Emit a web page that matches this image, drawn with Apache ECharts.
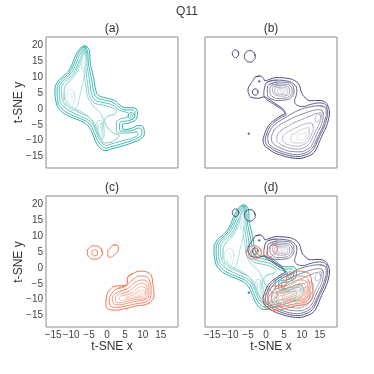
<!DOCTYPE html>
<html><head><meta charset="utf-8">
<script src="https://cdn.jsdelivr.net/npm/echarts/dist/echarts.min.js"></script>
<style>html,body{margin:0;padding:0;background:#fff}#c{width:374px;height:374px}</style>
</head><body><div id="c"></div>
<script>
// ---- tick labels / ranges ----
const xTicks = [-15, -10, -5, 0, 5, 10, 15];
const yTicks = [-15, -10, -5, 0, 5, 10, 15, 20];
const xRange = [-17.0, 19.8];
const yRange = [-18.6, 22.7];
const panelTitles = ['(a)', '(b)', '(c)', '(d)'];
const mainTitle = 'Q11';
const xName = 't-SNE x';
const yName = 't-SNE y';

// ---- teal group (panel a) contour lines, data coords ----
const teal1 = [[-6.4,19.9],[-5.2,19.2],[-4.8,17.4],[-4.7,14.8],[-4.2,12.2],[-3.6,9.0],[-3.1,5.9],[-2.4,4.3],[-0.3,3.5],[2.0,2.7],[3.8,1.1],[5.2,0.4],[7.3,0.4],[8.5,-1.0],[8.2,-3.1],[6.1,-4.4],[4.3,-4.9],[4.5,-6.5],[6.6,-6.2],[8.9,-5.2],[10.1,-5.7],[10.4,-7.8],[9.4,-9.4],[7.5,-10.4],[4.8,-11.5],[1.5,-12.5],[-0.3,-13.1],[-1.7,-12.5],[-3.1,-10.4],[-4.0,-7.9],[-5.4,-5.2],[-7.7,-3.6],[-10.5,-2.3],[-12.8,-0.6],[-14.2,2.2],[-14.5,5.9],[-13.8,8.5],[-11.9,10.6],[-10.3,12.7],[-9.1,15.9],[-7.9,18.5],[-7.0,19.6]];
const teal2 = [[-6.4,19.4],[-5.6,18.9],[-5.3,17.0],[-5.2,14.6],[-4.8,12.0],[-4.2,8.8],[-3.7,5.5],[-2.8,3.6],[-0.5,2.8],[1.8,2.0],[3.6,0.4],[5.3,-0.3],[7.1,-0.3],[7.8,-1.2],[7.6,-2.7],[6.0,-3.7],[4.0,-4.0],[3.5,-5.2],[3.7,-7.0],[6.6,-6.9],[8.9,-6.0],[9.6,-6.4],[9.7,-7.8],[8.9,-8.9],[7.2,-9.8],[4.6,-10.8],[1.4,-11.8],[-0.3,-12.3],[-1.3,-11.8],[-2.6,-10.0],[-3.5,-7.6],[-5.0,-4.6],[-7.5,-3.0],[-10.2,-1.7],[-12.3,-0.1],[-13.7,2.4],[-13.9,5.9],[-13.3,8.3],[-11.5,10.3],[-9.9,12.5],[-8.7,15.6],[-7.6,18.2]];
const teal3 = [[-6.4,19.0],[-5.8,18.5],[-5.6,16.6],[-5.6,14.3],[-5.3,11.8],[-4.8,8.5],[-4.3,5.0],[-3.2,2.8],[-0.8,2.0],[1.6,1.2],[3.4,-0.3],[5.3,-1.0],[6.0,-1.4],[5.6,-2.6],[3.6,-3.2],[2.6,-4.6],[2.8,-7.4],[5.6,-7.6],[8.4,-7.2],[8.6,-8.0],[7.4,-9.0],[4.4,-10.0],[1.2,-11.0],[-0.3,-11.5],[-1.0,-11.0],[-2.1,-9.6],[-3.0,-7.2],[-4.6,-4.0],[-7.2,-2.4],[-9.8,-1.0],[-11.8,0.5],[-13.1,2.7],[-13.3,5.9],[-12.8,8.1],[-11.1,10.0],[-9.5,12.2],[-8.3,15.2],[-7.3,17.7]];
const tealLoop = [[7.7,-2.2],[7.4,-1.5],[6.8,-1.2],[6.1,-1.5],[5.9,-2.2],[6.2,-2.9],[6.8,-3.2],[7.4,-2.9]];
const teal4 = [[-6.4,18.6],[-5.9,18.0],[-5.9,15.5],[-6.0,13.8],[-5.8,11.4],[-5.4,8.1],[-4.9,4.4],[-3.6,2.0],[-1.0,1.2],[1.4,0.4],[2.6,-0.6],[2.2,-1.6],[0.4,-2.2],[-0.6,-3.6],[0.0,-5.6],[1.8,-7.6],[3.4,-8.4],[2.4,-9.6],[0.4,-10.6],[-0.6,-10.7],[-1.6,-9.4],[-2.6,-6.8],[-4.2,-3.4],[-6.8,-1.6],[-9.4,-0.2],[-11.3,1.2],[-12.5,3.2],[-12.7,5.9],[-12.2,7.9],[-10.7,9.6],[-9.1,11.8],[-7.9,14.8],[-7.0,17.0]];
const tealLoopIn = [[7.2,-2.2],[6.8,-1.8],[6.4,-2.2],[6.8,-2.6]];
const teal5 = [[-6.4,18.2],[-6.0,17.5],[-6.1,14.0],[-6.3,11.0],[-5.9,7.6],[-5.4,4.0],[-4.0,1.2],[-2.2,-0.8],[-1.2,-2.8],[-0.9,-5.4],[-0.8,-8.0],[-1.3,-9.4],[-2.0,-8.8],[-3.0,-6.4],[-4.6,-3.0],[-7.0,-1.0],[-9.4,0.4],[-11.0,1.8],[-11.9,3.8],[-11.9,6.0],[-11.4,7.8],[-10.2,9.4],[-8.8,11.5],[-7.7,14.4],[-6.9,16.8]];
const teal6a = [[-6.4,17.8],[-6.0,16.8],[-6.1,13.0],[-6.6,9.0],[-7.2,6.0],[-7.8,3.0],[-8.6,0.4],[-10.2,-0.4],[-11.7,1.0],[-12.2,3.6],[-11.9,6.2],[-10.8,8.0],[-9.4,9.8],[-8.3,11.8],[-7.4,14.2],[-6.9,16.4]];
const teal6b = [[-1.6,-3.8],[-1.3,-6.0],[-1.3,-8.2],[-1.8,-8.6],[-2.6,-6.6],[-2.8,-4.6],[-2.3,-3.6]];
const teal7a = [[-6.4,17.3],[-6.0,16.2],[-5.9,14.0],[-6.2,11.8],[-6.8,11.8],[-7.0,13.5],[-6.9,15.8]];
const teal7b = [[-9.3,5.6],[-9.0,3.6],[-9.4,1.4],[-10.3,0.6],[-11.2,1.4],[-11.6,3.4],[-11.2,5.4],[-10.2,6.2]];
const teal7c = [[-1.8,-4.6],[-1.6,-6.6],[-2.0,-7.8],[-2.4,-6.4],[-2.3,-4.8]];
const teal8a = [[-9.9,4.6],[-9.7,3.0],[-10.2,1.6],[-10.7,2.2],[-10.9,3.6],[-10.5,4.8]];
const teal8b = [[-6.3,16.5],[-6.1,14.5],[-6.4,12.8],[-6.7,13.8],[-6.6,15.6]];
const tealLines = [teal1, teal2, teal3, tealLoop, teal4, tealLoopIn, teal5, teal6a, teal6b, teal7a, teal7b, teal7c, teal8a, teal8b];
const tealLevel = [0, 1, 2, 1, 3, 3, 4, 5, 5, 6, 6, 6, 7, 7];

// ---- navy group (panel b) ----
const navy1 = [[-2.9,10.1],[-1.7,10.4],[-0.7,9.7],[-0.3,8.9],[1.1,9.4],[3.0,9.9],[5.7,9.7],[7.9,9.0],[9.3,7.5],[9.9,5.2],[10.9,3.6],[12.6,2.6],[14.5,2.7],[16.3,2.3],[17.3,0.8],[17.7,-1.3],[17.4,-3.4],[16.8,-5.6],[15.8,-8.0],[14.9,-10.3],[14.2,-12.2],[13.1,-14.0],[11.2,-15.1],[8.9,-15.6],[6.6,-15.3],[4.3,-14.6],[2.4,-13.8],[0.6,-12.5],[-0.5,-11.3],[-0.8,-9.8],[-0.4,-8.0],[0.3,-6.0],[1.3,-4.5],[2.6,-3.3],[4.0,-2.2],[5.3,-1.2],[4.5,0.2],[2.4,1.8],[0.8,3.1],[-0.6,3.8],[-2.2,3.4],[-3.9,3.6],[-4.8,4.8],[-5.0,6.1],[-4.4,7.7],[-3.6,9.0]];
const navy2 = [[0.4,8.5],[2.9,9.1],[6.0,8.8],[7.8,7.8],[8.6,6.0],[8.4,4.2],[8.0,2.6],[8.6,1.2],[10.3,0.8],[12.6,1.5],[14.9,1.9],[16.3,1.6],[17.0,0.3],[17.2,-1.4],[16.8,-3.5],[16.2,-5.6],[15.2,-8.0],[14.3,-10.2],[13.6,-12.0],[12.6,-13.5],[10.9,-14.5],[8.9,-15.0],[6.6,-14.7],[4.4,-14.0],[2.6,-13.2],[1.0,-12.0],[0.0,-10.9],[-0.2,-9.6],[0.2,-7.9],[0.9,-6.0],[1.9,-4.6],[3.2,-3.4],[4.6,-2.4],[5.6,-1.8],[4.9,-0.6],[3.0,0.9],[1.2,2.2],[0.0,3.2],[-0.6,4.6],[-0.4,6.6]];
const navy3u = [[1.1,7.8],[3.2,8.5],[6.0,8.3],[7.4,7.4],[7.8,5.7],[7.3,4.0],[5.7,2.9],[3.4,2.7],[1.5,3.2],[0.4,4.7],[0.4,6.6]];
const navy3l = [[14.9,1.0],[16.4,0.6],[16.8,-1.4],[16.4,-3.5],[15.8,-5.6],[14.8,-8.0],[13.9,-10.2],[13.1,-12.0],[12.0,-13.2],[10.5,-14.0],[8.7,-14.4],[6.6,-14.1],[4.5,-13.4],[2.8,-12.6],[1.4,-11.6],[0.6,-10.4],[0.5,-8.8],[1.1,-7.0],[2.0,-5.4],[3.3,-4.1],[5.0,-3.0],[7.0,-1.6],[9.5,-0.2],[12.4,0.7]];
const navy4u = [[1.5,7.4],[3.4,7.9],[5.8,7.7],[7.0,7.0],[7.3,5.5],[6.7,4.2],[5.2,3.4],[3.4,3.3],[2.0,3.8],[1.1,5.3],[1.1,6.6]];
const navy4l = [[15.2,-0.2],[16.0,-1.5],[15.8,-3.5],[15.2,-5.6],[14.2,-7.8],[13.4,-10.0],[12.5,-11.8],[11.3,-12.8],[9.5,-13.5],[7.3,-13.4],[5.1,-12.8],[3.3,-11.9],[2.0,-10.8],[1.5,-9.4],[1.8,-7.8],[2.7,-6.2],[4.0,-4.9],[5.8,-3.8],[8.0,-2.5],[10.6,-1.4],[13.0,-0.5]];
const navy5u = [[2.1,7.0],[3.7,7.4],[5.6,7.2],[6.5,6.5],[6.6,5.3],[6.0,4.4],[4.5,4.05],[2.9,4.3],[2.0,5.1],[1.8,6.2]];
const navy5l = [[14.6,-1.4],[15.3,-2.6],[14.9,-4.6],[13.9,-6.7],[13.0,-9.0],[12.1,-10.9],[10.8,-12.0],[9.0,-12.6],[7.0,-12.4],[5.2,-11.8],[3.8,-10.9],[3.0,-9.6],[3.2,-8.2],[4.2,-6.8],[5.8,-5.6],[7.8,-4.3],[10.0,-3.3],[12.3,-2.2]];
const navy6u = [[2.6,6.6],[4.1,6.9],[5.5,6.7],[6.1,5.9],[5.9,4.9],[4.8,4.6],[3.4,4.7],[2.4,5.3]];
const navy6l = [[12.8,-4.4],[13.2,-5.9],[12.6,-8.2],[11.8,-10.1],[10.4,-11.3],[8.6,-11.7],[6.7,-11.4],[5.2,-10.6],[4.6,-9.3],[5.2,-8.0],[6.8,-6.8],[8.8,-5.7],[10.9,-4.7]];
const navy6r = [[15.2,-1.1],[15.6,-2.1],[14.9,-3.6],[14.1,-4.1],[13.7,-3.1],[14.3,-1.7]];
const navy7u = [[3.4,6.3],[4.6,6.5],[5.4,6.05],[5.3,5.3],[4.3,5.0],[3.4,5.2],[3.1,5.7]];
const navy7l = [[11.9,-5.9],[12.0,-8.0],[11.2,-9.9],[9.9,-10.7],[8.1,-10.7],[6.9,-9.9],[7.0,-8.6],[8.6,-7.4],[10.4,-6.3]];
const navy8u = [[3.9,5.9],[4.85,6.05],[5.0,5.6],[4.1,5.4]];
const navy8l = [[11.2,-7.4],[11.2,-9.1],[10.0,-9.8],[8.6,-9.6],[8.7,-8.4],[10.0,-7.7]];
const navyCircle1 = [[-7.6,17.4],[-7.9,18.3],[-8.5,18.6],[-9.1,18.3],[-9.4,17.4],[-9.1,16.6],[-8.5,16.2],[-7.9,16.6]];
const navyCircle2 = [[-3.0,16.6],[-3.45,17.9],[-4.5,18.4],[-5.55,17.9],[-6.0,16.6],[-5.55,15.3],[-4.5,14.8],[-3.45,15.3]];
const navyCurlRing = [[-2.2,5.35],[-2.45,6.05],[-3.0,6.35],[-3.55,6.05],[-3.8,5.35],[-3.55,4.65],[-3.0,4.35],[-2.45,4.65]];
const navyDot1 = [[-1.7,8.7],[-1.9,8.95],[-2.1,8.7],[-1.9,8.45]];
const navyDot2 = [[-4.6,-7.8],[-4.8,-7.55],[-5.0,-7.8],[-4.8,-8.05]];
const navyLines = [navy1, navy2, navy3u, navy3l, navy4u, navy4l, navy5u, navy5l, navy6u, navy6l, navy6r, navy7u, navy7l, navy8u, navy8l, navyCircle1, navyCircle2, navyCurlRing, navyDot1, navyDot2];
const navyLevel = [0, 1, 2, 2, 3, 3, 4, 4, 5, 5, 5, 6, 6, 7, 7, 0, 0, 0, 0, 0];

// ---- coral group (panel c) ----
const coral1 = [[5.7,-3.1],[7.3,-1.7],[9.4,-1.0],[11.2,-1.3],[12.4,-2.5],[12.8,-5.2],[13.1,-8.3],[12.4,-10.4],[10.8,-11.5],[8.0,-12.0],[5.2,-12.8],[2.4,-13.3],[0.6,-13.05],[-0.3,-11.8],[-0.1,-8.85],[1.1,-6.5],[2.4,-5.7],[4.8,-5.5],[5.7,-4.4]];
const coral2 = [[2.9,-6.5],[5.2,-5.7],[7.3,-3.6],[9.4,-2.5],[11.0,-2.75],[11.9,-4.1],[12.3,-6.7],[12.1,-9.4],[10.8,-10.7],[8.0,-11.3],[5.2,-12.0],[2.6,-12.4],[1.1,-12.0],[0.6,-10.4],[1.2,-8.3]];
const coral3 = [[3.6,-7.4],[5.7,-6.5],[7.8,-4.6],[9.7,-3.8],[11.1,-4.2],[11.7,-5.9],[11.7,-8.6],[10.6,-10.0],[8.0,-10.5],[5.4,-11.2],[3.2,-11.6],[1.8,-11.2],[1.5,-9.7],[2.2,-8.2]];
const coral4 = [[4.3,-8.0],[6.3,-7.2],[8.2,-5.5],[9.85,-4.85],[11.0,-5.5],[11.2,-7.3],[11.0,-9.1],[9.85,-9.8],[7.8,-10.0],[5.6,-10.5],[3.6,-10.95],[2.4,-10.5],[2.4,-9.3],[3.2,-8.4]];
const coral5 = [[5.0,-8.6],[6.9,-7.8],[8.6,-6.3],[10.0,-5.9],[10.8,-6.7],[10.7,-8.4],[9.7,-9.3],[7.6,-9.5],[5.8,-9.9],[4.1,-10.2],[3.4,-9.6],[3.9,-8.85]];
const coral6 = [[6.0,-9.1],[7.4,-8.2],[8.9,-7.1],[10.1,-6.95],[10.4,-8.0],[9.7,-8.85],[7.8,-9.06],[6.15,-9.5],[5.0,-9.5],[5.2,-9.06]];
const coral7 = [[7.3,-8.6],[8.6,-7.8],[9.7,-7.6],[9.85,-8.3],[8.9,-8.7],[7.6,-8.95]];
const coral8 = [[8.9,-8.0],[9.6,-7.9],[9.5,-8.3],[8.8,-8.4]];
const coralRing = [[-1.3,4.9],[-1.9,6.4],[-3.4,7.0],[-4.9,6.4],[-5.5,4.9],[-4.9,3.4],[-3.4,2.8],[-1.9,3.4]];
const coralRingIn = [[-2.6,4.8],[-2.8,5.5],[-3.4,5.75],[-4.0,5.5],[-4.2,4.8],[-4.0,4.1],[-3.4,3.85],[-2.8,4.1]];
const coralDrop = [[2.0,7.3],[2.7,7.2],[3.2,6.3],[2.9,5.1],[2.0,4.1],[1.0,3.4],[0.3,3.7],[0.2,5.0],[0.8,6.2],[1.4,7.0]];
const coralLines = [coral1, coral2, coral3, coral4, coral5, coral6, coral7, coral8, coralRing, coralRingIn, coralDrop];
const coralLevel = [0, 1, 2, 3, 4, 5, 6, 7, 0, 1, 0];

// ---- styling ----
const tealBase = [40, 174, 166], navyBase = [72, 72, 122], coralBase = [242, 116, 80];
function levelColor(base, lv) {
  const t = Math.min(lv / 7, 1) * 0.86;
  const c = base.map(v => Math.round(v + (255 - v) * t));
  return 'rgb(' + c.join(',') + ')';
}
const FONT = 'Liberation Sans, Arial, sans-serif';
function fmt(v) { return v < 0 ? '\u2212' + Math.abs(v) : String(v); }
function inTicks(arr, v) { return arr.some(t => Math.abs(t - v) < 1e-6); }

const gridPos = [[46, 37], [205, 37], [46, 196], [205, 196]];
const grids = gridPos.map(p => ({left: p[0], top: p[1], width: 132, height: 131, show: true,
  borderColor: '#8a8a8a', borderWidth: 1, backgroundColor: 'transparent', containLabel: false, outerBoundsMode: 'none'}));

const xAxes = [], yAxes = [];
for (let i = 0; i < 4; i++) {
  xAxes.push({type: 'value', gridIndex: i, min: xRange[0], max: xRange[1], minInterval: 5, maxInterval: 5,
    axisLine: {show: false}, axisTick: {show: false}, splitLine: {show: false},
    axisLabel: {show: i >= 2, showMinLabel: false, showMaxLabel: false, margin: 3, fontSize: 10, fontFamily: FONT, color: '#444',
      formatter: v => inTicks(xTicks, v) ? fmt(v) : ''}});
  yAxes.push({type: 'value', gridIndex: i, min: yRange[0], max: yRange[1], minInterval: 5, maxInterval: 5,
    axisLine: {show: false}, axisTick: {show: false}, splitLine: {show: false},
    axisLabel: {show: i % 2 === 0, showMinLabel: false, showMaxLabel: false, margin: 3, fontSize: 10, fontFamily: FONT, color: '#444',
      formatter: v => inTicks(yTicks, v) ? fmt(v) : ''}});
}

const series = [];
function addGroup(lines, levels, base, panel) {
  lines.forEach((pts, k) => {
    series.push({type: 'line', xAxisIndex: panel, yAxisIndex: panel, data: pts.concat([pts[0], pts[1]]),
      symbol: 'none', showSymbol: false, smooth: 0.5, silent: true, animation: false,
      lineStyle: {color: levelColor(base, levels[k]), width: 1}, z: 2});
  });
}
addGroup(tealLines, tealLevel, tealBase, 0);
addGroup(navyLines, navyLevel, navyBase, 1);
addGroup(coralLines, coralLevel, coralBase, 2);
addGroup(tealLines, tealLevel, tealBase, 3);
addGroup(navyLines, navyLevel, navyBase, 3);
addGroup(coralLines, coralLevel, coralBase, 3);

const txt = (s, x, y, rot) => ({type: 'text', x: x, y: y, rotation: rot || 0,
  style: {text: s, align: 'center', verticalAlign: 'middle', fontSize: 12, fontFamily: FONT, fill: '#333'}});
const graphic = [
  txt(mainTitle, 187, 12),
  txt(panelTitles[0], 112, 29), txt(panelTitles[1], 271, 29),
  txt(panelTitles[2], 112, 188), txt(panelTitles[3], 271, 188),
  txt(yName, 19, 102.5, Math.PI / 2), txt(yName, 19, 262, Math.PI / 2),
  txt(xName, 112, 347), txt(xName, 271, 347)
];

const chart = echarts.init(document.getElementById('c'), null, {renderer: 'canvas', width: 374, height: 374});
chart.setOption({animation: false, backgroundColor: '#fff', grid: grids, xAxis: xAxes, yAxis: yAxes, series: series, graphic: graphic});
</script>
</body></html>
